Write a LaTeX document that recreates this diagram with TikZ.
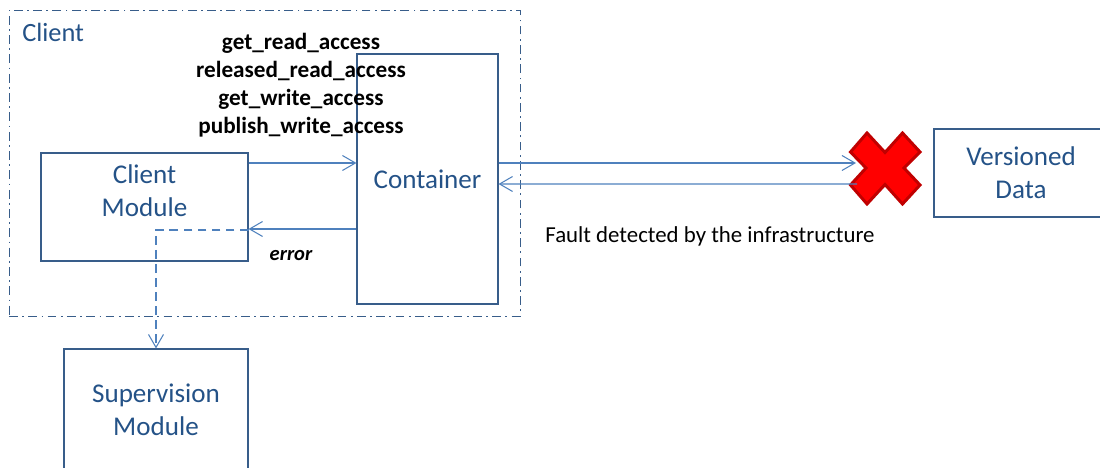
\documentclass[tikz,border=0pt]{standalone}
\usepackage{fontspec}
\setmainfont{Carlito}
\usetikzlibrary{arrows.meta}
\definecolor{boxblue}{HTML}{385D8A}
\definecolor{linkblue}{HTML}{4F81BD}
\definecolor{textblue}{HTML}{245287}
\definecolor{crossred}{HTML}{C00000}
\begin{document}
\begin{tikzpicture}
  \tikzstyle{box}=[rectangle, draw=boxblue, line width=0.6pt, text=textblue, align=center, font=\fontsize{15.4}{18.6}\selectfont]
  \tikzstyle{link}=[draw=linkblue, line width=0.6pt, -{Straight Barb[length=0.26cm, width=0.3cm]}]
  \tikzstyle{note}=[text=black, align=center, font=\fontsize{13.2}{15.9}\selectfont\bfseries]

  \useasboundingbox (0,0) rectangle (22,9.36);

  \node[rectangle, draw=boxblue, line width=0.5pt, dash pattern=on 5pt off 2.5pt on 1pt off 2.5pt, minimum width=10.22cm, minimum height=6.12cm] (client) at (5.29,6.1) {};
  \node[text=textblue, anchor=west, inner sep=0pt, font=\fontsize{15}{18.6}\selectfont] (clientname) at (0.44,8.72) {Client};

  \node[box, minimum width=4.14cm, minimum height=2.16cm] (module) at (2.89,5.22) {Client\\Module\\\mbox{}};
  \node[box, minimum width=2.82cm, minimum height=5cm] (container) at (8.55,5.78) {Container};
  \node[box, minimum width=3.68cm, minimum height=2.42cm] (supervision) at (3.12,1.17) {Supervision\\Module};
  \node[box, minimum width=3.48cm, minimum height=1.76cm] (versioned) at (20.42,5.9) {Versioned\\Data};

  % red cross
  \coordinate (fault) at (17.7,6);
  \draw[shift={(fault)}, draw=crossred, fill=red, line width=1.7pt, line join=miter]
    (-0.36,0.70) -- (-0.69,0.32) -- (-0.38,0) -- (-0.69,-0.34) -- (-0.36,-0.72) -- (0,-0.33)
    -- (0.35,-0.72) -- (0.70,-0.34) -- (0.38,0) -- (0.70,0.32) -- (0.35,0.70) -- (0,0.31) -- cycle;

  \draw[link] ([yshift=0.88cm]module.east) -- ([yshift=0.32cm]container.west);
  \draw[link] ([yshift=-1cm]container.west) -- ([yshift=-0.44cm]module.east);
  \draw[link, dashed, dash pattern=on 5pt off 3pt] ([yshift=-0.46cm]module.east) -| (supervision.north);
  \draw[link] ([yshift=0.32cm]container.east) -- ([shift={(-0.58,0.1)}]fault);
  \draw[link] ([shift={(-0.56,-0.32)}]fault) -- ([yshift=-0.1cm]container.east);

  \node[note] (access) at (6.02,7.66) {get\_read\_access\\released\_read\_access\\get\_write\_access\\publish\_write\_access};
  \node[note, font=\fontsize{11.7}{14}\selectfont\bfseries\itshape] (error) at (5.82,4.25) {error};
  \node[note, font=\fontsize{13}{15}\selectfont] (faultnote) at (14.2,4.64) {Fault detected by the infrastructure};
\end{tikzpicture}
\end{document}
